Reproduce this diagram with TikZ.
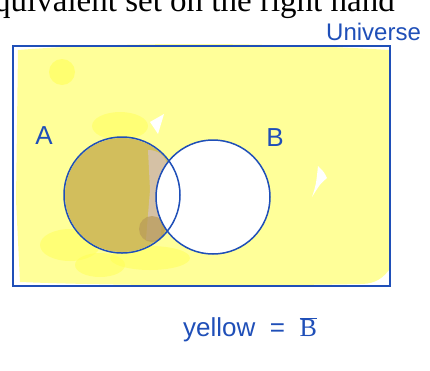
\documentclass[tikz,border=0pt]{standalone}
\usepackage{fontspec}
\setmainfont{Liberation Serif}
\newfontfamily\handfont{Liberation Sans}
\definecolor{penblue}{HTML}{1F4FB8}
\definecolor{hiyel}{HTML}{FFFF99}
\definecolor{hiyelb}{HTML}{FFFF55}
\definecolor{brownfill}{HTML}{D2BE5C}
\definecolor{taupe}{HTML}{D6C2AE}
\definecolor{darkbrown}{HTML}{B89A58}
\tikzset{
  pen/.style={draw=penblue, line width=1.5pt},
  hand/.style={text=penblue, font=\handfont\fontsize{26}{26}\selectfont, inner sep=0pt},
}
\begin{document}
\begin{tikzpicture}[x=1pt,y=-1pt]
\useasboundingbox (0,0) rectangle (430,370);
\clip (0,0) rectangle (430,370);
% cut-off text at the top
\node[anchor=base west, inner sep=0pt, font=\fontsize{33}{33}\selectfont] (top) at (-6,11) {quivalent set on the right hand};
% yellow highlight
\fill[hiyel] (18,50) .. controls (120,42) and (260,42) .. (389,50) -- (389,270) .. controls (380,282) and (370,284) .. (360,284) .. controls (260,286) and (120,286) .. (20,282) -- (16,200) -- (18,50) -- cycle;
\fill[hiyelb, opacity=0.6] (62,72) circle (13);
\fill[hiyelb, opacity=0.5] (120,126) ellipse (28 and 14);
\fill[hiyelb, opacity=0.5] (70,245) ellipse (30 and 16);
\fill[hiyelb, opacity=0.5] (150,258) ellipse (40 and 12);
\fill[hiyelb, opacity=0.5] (100,265) ellipse (25 and 12);
\fill[white] (150,122) -- (164,114) -- (158,134) -- cycle;
\fill[white] (318,166) .. controls (324,172) .. (327,178) .. controls (320,184) .. (312,197) .. controls (316,185) .. (318,166) -- cycle;
% region A minus B (darker)
\fill[brownfill] (122,195) circle (57);
\fill[taupe, opacity=0.9] (148,150) .. controls (165,150) and (172,165) .. (166,185) -- (160,240) -- (146,240) -- (150,190) -- cycle;
\fill[darkbrown, opacity=0.7] (152,229) circle (13);
% B interior white
\fill[white] (213,197) circle (57);
% outlines
\draw[pen] (13,46) rectangle (390,286);
\node[pen, draw, circle, minimum size=116pt, fill=none, inner sep=0pt] (A) at (122,195) {};
\node[pen, draw, circle, minimum size=114pt, fill=none, inner sep=0pt] (B) at (213,197) {};
% labels
\node[hand] (la) at (44,136) {A};
\node[hand] (lb) at (275,138) {B};
\node[hand, anchor=west, font=\handfont\fontsize{24}{24}\selectfont] (uni) at (326,32) {Universe};
\node[hand, anchor=west] (yel) at (183,330) {yellow \ = \ $\overline{\mathrm{B}}$};
\end{tikzpicture}
\end{document}
